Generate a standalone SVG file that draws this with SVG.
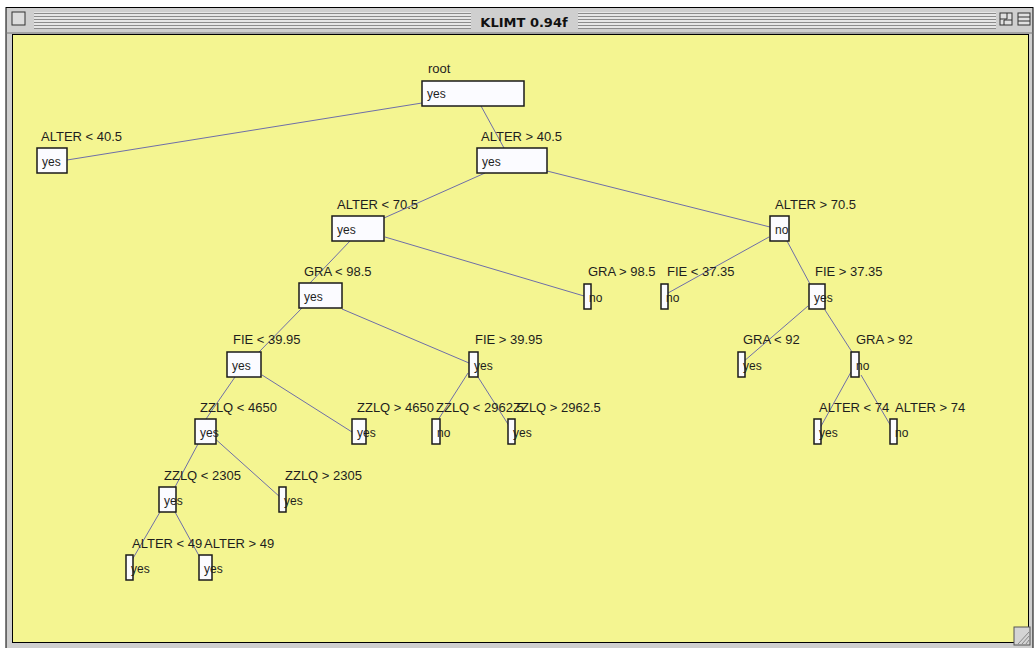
<svg xmlns="http://www.w3.org/2000/svg" width="1034" height="648" viewBox="0 0 1034 648">
<defs>
<style>
.lbl{font-family:"Liberation Sans",Arial,sans-serif;font-size:13px;fill:#1e1e1e}
.val{font-family:"Liberation Sans",Arial,sans-serif;font-size:12px;fill:#1e1e1e}
.box{fill:#fbfbff;stroke:#1a1a1a;stroke-width:1.5}
.edge{stroke:#6e6ea8;stroke-width:1;fill:none}
.title{font-family:"DejaVu Sans",sans-serif;font-size:13px;font-weight:bold;fill:#111}
</style>
<pattern id="stripes" x="0" y="12" width="4" height="3" patternUnits="userSpaceOnUse">
<rect width="4" height="3" fill="#e6e6e6"/>
<rect y="1" width="4" height="1" fill="#8c8c8c"/>
</pattern>
</defs>
<rect width="1034" height="648" fill="#ffffff"/>
<g id="window">
<rect x="6" y="7.5" width="1027" height="641" fill="#cfcfcf" stroke="#000" stroke-width="1"/>
<rect x="34" y="12" width="437" height="17" fill="url(#stripes)"/>
<rect x="578" y="12" width="418" height="17" fill="url(#stripes)"/>
<rect x="12" y="12" width="13" height="13" fill="#dcdcdc" stroke="#333" stroke-width="1"/>
<text class="title" x="524" y="27" text-anchor="middle">KLIMT 0.94f</text>
<rect x="1000" y="13" width="12" height="12" fill="#e0e0e0" stroke="#333" stroke-width="1"/>
<path d="M1000 19 H1007 V13 M1004 25 V20 H1012" stroke="#333" stroke-width="1" fill="none"/>
<rect x="1018" y="13" width="12" height="12" fill="#e0e0e0" stroke="#333" stroke-width="1"/>
<path d="M1018 17 H1030 M1018 21 H1030" stroke="#333" stroke-width="1"/>
<line x1="6" y1="33" x2="1033" y2="33" stroke="#777" stroke-width="1"/>
<rect x="12.5" y="34.5" width="1016" height="608" fill="#f4f591" stroke="#000" stroke-width="1"/>
<rect x="1014" y="627" width="16" height="18" fill="#d4d4d4" stroke="#555" stroke-width="1"/>
<path d="M1018 644 L1029 632 M1022 644 L1029 636 M1026 644 L1029 640" stroke="#888" stroke-width="1"/>
</g>
<g id="connectors">
<line class="edge" x1="422" y1="103" x2="67" y2="160"/>
<line class="edge" x1="481" y1="106" x2="504" y2="148"/>
<line class="edge" x1="485" y1="173" x2="384" y2="218"/>
<line class="edge" x1="547" y1="171" x2="770" y2="227"/>
<line class="edge" x1="350" y1="241" x2="310" y2="283"/>
<line class="edge" x1="385" y1="237" x2="584" y2="296"/>
<line class="edge" x1="769" y1="237" x2="668" y2="293"/>
<line class="edge" x1="787" y1="241" x2="810" y2="284"/>
<line class="edge" x1="302" y1="308" x2="259" y2="352"/>
<line class="edge" x1="342" y1="309" x2="469" y2="363"/>
<line class="edge" x1="808" y1="306" x2="743" y2="362"/>
<line class="edge" x1="825" y1="310" x2="852" y2="352"/>
<line class="edge" x1="235" y1="377" x2="206" y2="419"/>
<line class="edge" x1="262" y1="375" x2="352" y2="432"/>
<line class="edge" x1="468" y1="373" x2="438" y2="420"/>
<line class="edge" x1="478" y1="377" x2="513" y2="432"/>
<line class="edge" x1="851" y1="372" x2="820" y2="428"/>
<line class="edge" x1="861" y1="375" x2="892" y2="428"/>
<line class="edge" x1="198" y1="444" x2="175" y2="487"/>
<line class="edge" x1="212" y1="436" x2="280" y2="497"/>
<line class="edge" x1="160" y1="512" x2="132" y2="560"/>
<line class="edge" x1="175" y1="512" x2="203" y2="563"/>
</g>
<g id="n_root"><text class="lbl" x="428" y="73">root</text><rect class="box" x="422" y="81" width="102" height="25"/><text class="val" x="427" y="98">yes</text></g>
<g id="n_alter_lt_40_5"><text class="lbl" x="41" y="141">ALTER &lt; 40.5</text><rect class="box" x="37" y="148" width="30" height="25"/><text class="val" x="42" y="166">yes</text></g>
<g id="n_alter_gt_40_5"><text class="lbl" x="481" y="141">ALTER &gt; 40.5</text><rect class="box" x="477" y="148" width="70" height="25"/><text class="val" x="482" y="166">yes</text></g>
<g id="n_alter_lt_70_5"><text class="lbl" x="337" y="209">ALTER &lt; 70.5</text><rect class="box" x="332" y="216" width="52" height="25"/><text class="val" x="337" y="234">yes</text></g>
<g id="n_alter_gt_70_5"><text class="lbl" x="775" y="209">ALTER &gt; 70.5</text><rect class="box" x="770" y="216" width="19" height="25"/><text class="val" x="775" y="234">no</text></g>
<g id="n_gra_lt_98_5"><text class="lbl" x="304" y="276">GRA &lt; 98.5</text><rect class="box" x="299" y="283" width="43" height="25"/><text class="val" x="304" y="301">yes</text></g>
<g id="n_gra_gt_98_5"><text class="lbl" x="588" y="276">GRA &gt; 98.5</text><rect class="box" x="584" y="284" width="7" height="25"/><text class="val" x="589" y="302">no</text></g>
<g id="n_fie_lt_37_35"><text class="lbl" x="667" y="276">FIE &lt; 37.35</text><rect class="box" x="661" y="284" width="7" height="25"/><text class="val" x="666" y="302">no</text></g>
<g id="n_fie_gt_37_35"><text class="lbl" x="815" y="276">FIE &gt; 37.35</text><rect class="box" x="809" y="284" width="16" height="25"/><text class="val" x="814" y="302">yes</text></g>
<g id="n_fie_lt_39_95"><text class="lbl" x="233" y="344">FIE &lt; 39.95</text><rect class="box" x="227" y="352" width="34" height="25"/><text class="val" x="232" y="370">yes</text></g>
<g id="n_fie_gt_39_95"><text class="lbl" x="475" y="344">FIE &gt; 39.95</text><rect class="box" x="469" y="352" width="9" height="25"/><text class="val" x="474" y="370">yes</text></g>
<g id="n_gra_lt_92"><text class="lbl" x="743" y="344">GRA &lt; 92</text><rect class="box" x="738" y="352" width="7" height="25"/><text class="val" x="743" y="370">yes</text></g>
<g id="n_gra_gt_92"><text class="lbl" x="856" y="344">GRA &gt; 92</text><rect class="box" x="851" y="352" width="8" height="25"/><text class="val" x="856" y="370">no</text></g>
<g id="n_zzlq_lt_4650"><text class="lbl" x="200" y="412">ZZLQ &lt; 4650</text><rect class="box" x="195" y="419" width="21" height="25"/><text class="val" x="200" y="437">yes</text></g>
<g id="n_zzlq_gt_4650"><text class="lbl" x="357" y="412">ZZLQ &gt; 4650</text><rect class="box" x="352" y="419" width="14" height="25"/><text class="val" x="357" y="437">yes</text></g>
<g id="n_zzlq_lt_2962_5"><text class="lbl" x="436" y="412">ZZLQ &lt; 2962.5</text><rect class="box" x="432" y="419" width="8" height="25"/><text class="val" x="437" y="437">no</text></g>
<g id="n_zzlq_gt_2962_5"><text class="lbl" x="513" y="412">ZZLQ &gt; 2962.5</text><rect class="box" x="508" y="419" width="7" height="25"/><text class="val" x="513" y="437">yes</text></g>
<g id="n_alter_lt_74"><text class="lbl" x="819" y="412">ALTER &lt; 74</text><rect class="box" x="814" y="419" width="7" height="25"/><text class="val" x="819" y="437">yes</text></g>
<g id="n_alter_gt_74"><text class="lbl" x="895" y="412">ALTER &gt; 74</text><rect class="box" x="890" y="419" width="7" height="25"/><text class="val" x="895" y="437">no</text></g>
<g id="n_zzlq_lt_2305"><text class="lbl" x="164" y="480">ZZLQ &lt; 2305</text><rect class="box" x="159" y="487" width="17" height="25"/><text class="val" x="164" y="505">yes</text></g>
<g id="n_zzlq_gt_2305"><text class="lbl" x="285" y="480">ZZLQ &gt; 2305</text><rect class="box" x="279" y="487" width="7" height="25"/><text class="val" x="284" y="505">yes</text></g>
<g id="n_alter_lt_49"><text class="lbl" x="132" y="548">ALTER &lt; 49</text><rect class="box" x="126" y="555" width="7" height="25"/><text class="val" x="131" y="573">yes</text></g>
<g id="n_alter_gt_49"><text class="lbl" x="204" y="548">ALTER &gt; 49</text><rect class="box" x="199" y="555" width="13" height="25"/><text class="val" x="204" y="573">yes</text></g>
</svg>
